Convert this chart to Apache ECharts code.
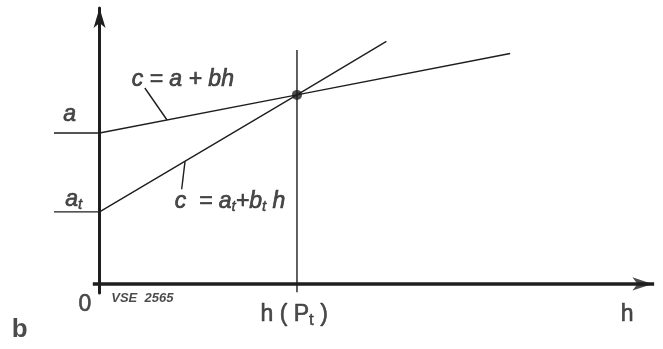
<!DOCTYPE html>
<html>
<head>
<meta charset="utf-8">
<script src="https://cdn.jsdelivr.net/npm/echarts@6/dist/echarts.min.js"></script>
<style>
  html, body { margin: 0; padding: 0; background: #fff; }
  #chart { width: 663px; height: 349px; }
</style>
</head>
<body>
<div id="chart"></div>
<script>
// 数据 (h on x, c on y)
const lineA = [[-8.1, 54.7], [0, 54.7], [35.1, 68.5], [73, 83.5]];     // c = a + bh
const lineAt = [[-8.1, 26.1], [0, 26.1], [35.1, 68.5], [51, 87.9]];   // c = a_t + b_t h
const lineP = [[35.1, -3], [35.1, 84.8]];                              // h(P_t)
const pointP = [[35.1, 68.5]];
const leaderA = [[8.05, 71.0], [12.0, 59.4]];
const leaderAt = [[15.2, 44.5], [14.6, 34.3]];
const hAxis = [[-1.2, 0], [98.6, 0]];   // 横轴
const hArrow = [[98.3, 0]];
// text labels: [h, c, text, style]
const labels = [
  [-5.3, 61.2, 'a', 'it'],
  [14.8, 73.9, 'c = a + bh', 'it'],
  [-4.6, 30.6, 'a{s|t}', 'it'],
  [23.2, 29.7, 'c  = a{s|t}+b{s|t} h', 'it'],
  [-2.6, -7.6, '0', 'up'],
  [7.6, -5.2, 'VSE  2565', 'sm'],
  [34.6, -11.2, 'h ( P{s2|t} )', 'up'],
  [93.8, -11.2, 'h', 'up'],
  [-14.2, -16.7, 'b', 'bd']
];

const ink = '#1e1e1e';
const chart = echarts.init(document.getElementById('chart'));

const textStyles = {
  it: { fontSize: 23, fontStyle: 'italic', textBorderColor: ink, textBorderWidth: 0.7 },
  up: { fontSize: 23, textBorderColor: ink, textBorderWidth: 0.6 },
  sm: { fontSize: 13, fontStyle: 'italic', fontWeight: 'bold' },
  bd: { fontSize: 26, fontWeight: 'bold' }
};

const thin = (data, w) => ({
  type: 'line',
  data: data,
  symbol: 'none',
  clip: false,
  silent: true,
  lineStyle: { color: ink, width: w || 1.4 }
});

const option = {
  backgroundColor: '#fff',
  animation: false,
  grid: { left: 54, right: 1, top: 8, bottom: 56 },
  xAxis: {
    type: 'value',
    min: -8.1,
    max: 100,
    axisLine: { show: false },
    axisTick: { show: false },
    axisLabel: { show: false },
    splitLine: { show: false }
  },
  yAxis: {
    type: 'value',
    min: -3.3,
    max: 100,
    axisLine: {
      onZero: true,
      symbol: ['none', 'arrow'],
      symbolSize: [9, 20],
      lineStyle: { color: ink, width: 3 }
    },
    axisTick: { show: false },
    axisLabel: { show: false },
    splitLine: { show: false }
  },
  series: [
    thin(hAxis, 3.5),
    thin(lineA),
    thin(lineAt),
    thin(lineP),
    thin(leaderA),
    thin(leaderAt),
    {
      type: 'scatter',
      data: hArrow,
      symbol: 'arrow',
      symbolSize: [10, 20],
      symbolRotate: -90,
      itemStyle: { color: ink },
      clip: false,
      silent: true
    },
    {
      type: 'scatter',
      data: pointP,
      symbolSize: 10,
      itemStyle: { color: ink },
      clip: false,
      silent: true
    },
    {
      type: 'scatter',
      symbolSize: 0,
      clip: false,
      silent: true,
      data: labels.map(l => ({
        value: [l[0], l[1]],
        label: {
          show: true,
          position: 'inside',
          formatter: l[2],
          color: ink,
          fontFamily: 'Liberation Sans',
          ...textStyles[l[3]],
          rich: {
            s: { fontSize: 15, fontStyle: 'italic', color: ink, fontFamily: 'Liberation Sans', padding: [10, 0, 0, 0], textBorderColor: ink, textBorderWidth: 0.5 },
            s2: { fontSize: 17, color: ink, fontFamily: 'Liberation Sans', padding: [12, 0, 0, 0], textBorderColor: ink, textBorderWidth: 0.5 }
          }
        }
      }))
    }
  ]
};

chart.setOption(option);
window.addEventListener('resize', function () {
  chart.resize();
});
</script>
</body>
</html>
